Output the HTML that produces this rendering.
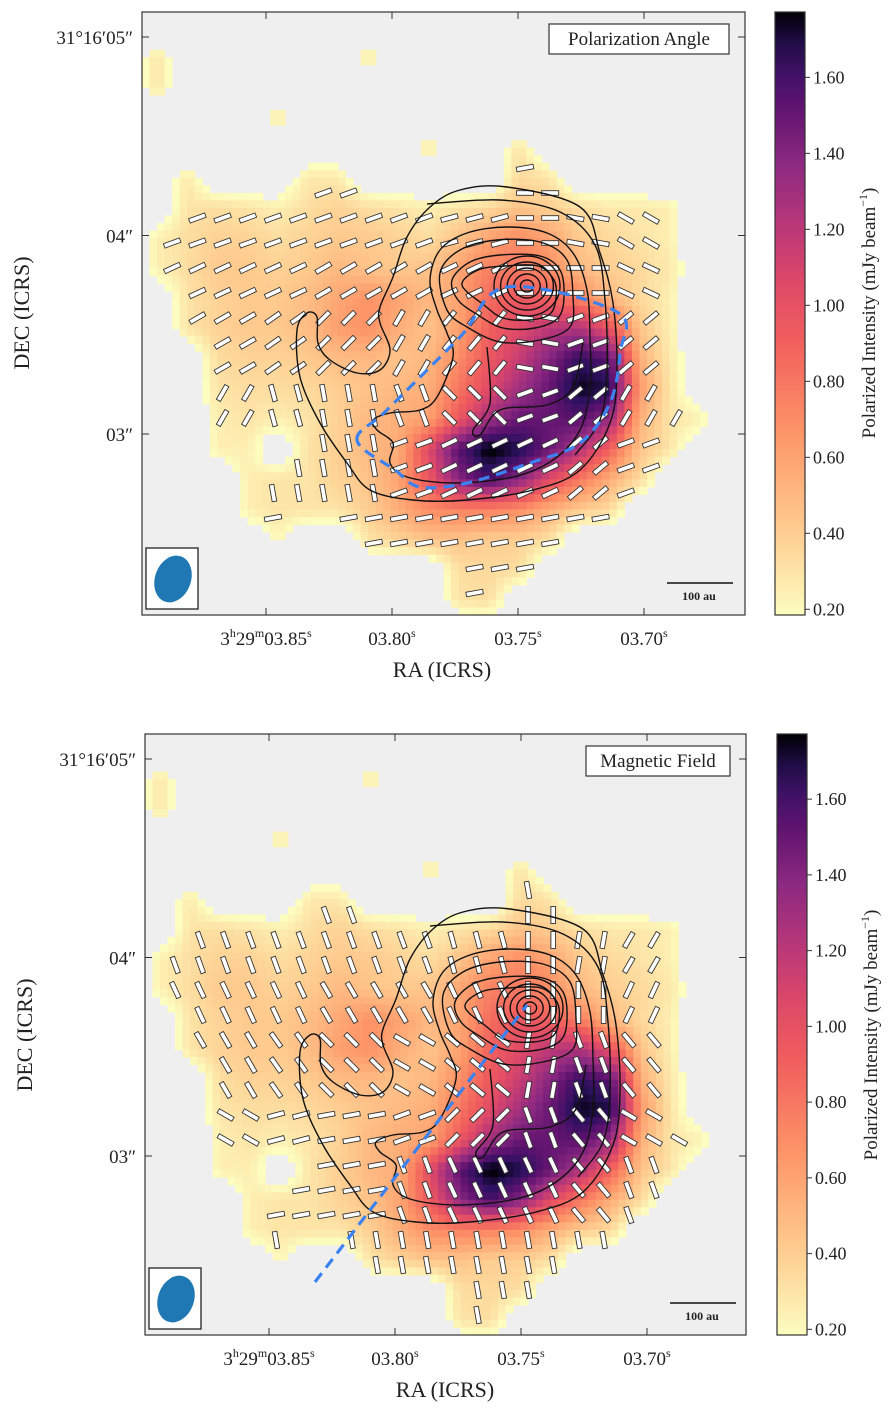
<!DOCTYPE html>
<html><head><meta charset="utf-8">
<style>
html,body{margin:0;padding:0;background:#fff;}
svg text{font-family:"Liberation Serif",serif;fill:#222;}
</style></head>
<body>
<svg id="fig" xmlns="http://www.w3.org/2000/svg" width="895" height="1415" viewBox="0 0 895 1415"></svg>
<script>
// ---- data ----
const gridValues = [
[0,0,0,0,0,0,0,0,0,0,0,0,0,0,0,0,0,0,0,0],
[.3,0,0,0,0,0,0,.3,0,0,0,0,0,0,0,0,0,0,0,0],
[.3,0,0,0,0,0,0,0,0,0,0,0,0,0,0,0,0,0,0,0],
[0,0,0,0,.3,0,0,0,0,0,0,0,0,0,0,0,0,0,0,0],
[0,0,0,0,0,0,0,0,0,.3,0,0,.3,0,0,0,0,0,0,0],
[0,.28,0,0,0,.28,.28,0,0,0,0,0,.35,.3,0,0,0,0,0,0],
[0,.3,.33,.3,.25,.33,.38,.33,.3,.25,.3,.35,.45,.4,.33,.28,.28,.25,0,0],
[.25,.33,.38,.38,.33,.38,.42,.42,.38,.33,.45,.6,.7,.6,.42,.35,.3,.25,0,0],
[.25,.33,.42,.42,.38,.42,.5,.45,.42,.45,.6,.75,.8,.7,.5,.4,.35,.28,0,0],
[0,.3,.38,.42,.42,.48,.58,.68,.6,.5,.6,.85,.95,.9,.75,.5,.35,.25,0,0],
[0,.3,.38,.42,.42,.48,.62,.68,.55,.45,.6,.9,1.05,1.2,1.25,1.0,.45,.25,0,0],
[0,0,.33,.38,.38,.42,.48,.5,.45,.5,.7,.95,1.15,1.4,1.65,1.55,.55,.28,0,0],
[0,0,.3,.33,.33,.35,.4,.45,.5,.55,.8,1.05,1.3,1.5,1.75,1.7,.65,.3,0,0],
[0,0,.25,.3,.25,.3,.38,.5,.55,.6,.95,1.3,1.5,1.5,1.55,1.35,.55,.3,.25,0],
[0,0,.25,.25,0,.3,.4,.5,.55,1.05,1.55,1.8,1.7,1.5,1.25,.9,.45,.3,0,0],
[0,0,0,.25,.3,.3,.38,.45,.6,.95,1.4,1.6,1.4,1.05,.8,.55,.35,0,0,0],
[0,0,0,.25,.3,.3,.3,.4,.55,.7,.75,.75,.7,.55,.42,.35,0,0,0,0],
[0,0,0,0,.22,0,0,.3,.38,.45,.45,.4,.4,.32,0,0,0,0,0,0],
[0,0,0,0,0,0,0,0,0,0,.33,.35,.33,0,0,0,0,0,0,0],
[0,0,0,0,0,0,0,0,0,0,.3,.33,0,0,0,0,0,0,0,0]];
// polarization angle (deg, screen rotation) on 10x10 coarse grid
const angleGrid = [
[-20,-20,-20,-20,-20,-20,-20,-20,-20,-20],
[-20,-20,-20,-20,-20,-20,-20,-20,-20,-20],
[-20,-20,-20,-20,-20,-15,-10,0,20,30],
[-20,-20,-20,-20,-20,-15,0,10,30,35],
[-25,-25,-25,-30,-30,-25,0,0,25,30],
[-30,-30,-35,-45,-60,-50,10,-20,-40,-10],
[-40,-60,75,80,70,45,-20,-40,-60,-20],
[80,80,80,80,-20,-25,-25,-40,-20,-15],
[85,80,-10,-10,-10,-10,-10,-10,-10,-10],
[-10,-10,-10,-10,-10,-10,-10,-10,-10,-10]];
const cbTicks = [0.20,0.40,0.60,0.80,1.00,1.20,1.40,1.60];
const raTicks = ["03.85","03.80","03.75","03.70"];
const decTicks = ["31°16′05″","04″","03″"];
const vmin = 0.185, vmax = 1.772;

const NS="http://www.w3.org/2000/svg";
const fig=document.getElementById('fig');
function mk(tag,attrs,parent){const e=document.createElementNS(NS,tag);for(const k in attrs)e.setAttribute(k,attrs[k]);(parent||fig).appendChild(e);return e;}

const cstops=[[0,[252,253,191]],[0.15,[254,201,141]],[0.3,[253,150,104]],[0.45,[241,96,93]],[0.55,[222,73,104]],[0.65,[183,55,121]],[0.75,[140,41,129]],[0.85,[92,18,110]],[0.93,[44,17,95]],[1,[0,0,4]]];
function cmap(v){let t=(v-vmin)/(vmax-vmin);t=Math.max(0,Math.min(1,t));
 for(let i=1;i<cstops.length;i++){if(t<=cstops[i][0]){const a=cstops[i-1],b=cstops[i];const f=(t-a[0])/(b[0]-a[0]);
 const c=a[1].map((x,j)=>Math.round(x+(b[1][j]-x)*f));return `rgb(${c[0]},${c[1]},${c[2]})`;}}return 'rgb(0,0,4)';}
function sample(gx,gy){
 const x0=Math.floor(gx),y0=Math.floor(gy),fx=gx-x0,fy=gy-y0;
 function g(i,j){if(j<0||j>19||i<0||i>19)return 0;return gridValues[j][i];}
 return g(x0,y0)*(1-fx)*(1-fy)+g(x0+1,y0)*fx*(1-fy)+g(x0,y0+1)*(1-fx)*fy+g(x0+1,y0+1)*fx*fy;}

const contours=[
[[507,187],[580,207],[600,253],[613,303],[617,370],[610,423],[580,470],[533,490],[467,500],[413,500],[370,490],[347,463],[320,423],[300,377],[297,330],[307,313],[317,317],[318,343],[330,360],[357,373],[380,370],[390,350],[380,323],[380,307],[393,277],[407,237],[430,207],[460,190]],
[[373,420],[390,413],[420,410],[437,397],[453,357],[447,333],[437,310],[430,280],[440,250],[467,233],[507,227],[547,233],[573,253],[587,290],[590,337],[590,387],[580,430],[553,460],[513,477],[453,483],[407,477],[390,463],[393,443],[377,430]],
[[427,204],[500,200],[560,212],[595,245],[605,300],[607,370],[600,420],[575,455]],
[[440,273],[460,250],[497,240],[540,242],[567,260],[573,297],[570,327],[540,340],[500,342],[467,327],[447,310]],
[[452,280],[470,262],[500,255],[540,256],[560,270],[564,297],[558,318],[535,328],[503,328],[478,315],[458,300]],
[[462,285],[478,270],[505,266],[538,266],[554,280],[556,298],[550,314],[530,320],[503,318],[484,305]],
[[487,347],[490,403],[473,430],[480,435],[500,410],[547,405],[573,387],[583,343]]
];
const openContour=[false,false,true,false,false,false,true];
const coreRadii=[6,12,18,24,30];
const dashTop=[[357,440],[387,410],[460,337],[507,287],[617,312],[620,353],[610,403],[580,443],[530,463],[467,483],[420,487],[395,470],[357,440]];

function smoothPath(pts,closed,dx,dy){
 const p=pts.map(q=>[q[0]+dx,q[1]+dy]);const n=p.length;let d=`M${p[0][0]},${p[0][1]}`;
 const cnt=closed?n:n-1;
 for(let i=0;i<cnt;i++){const p0=p[(i-1+n)%n],p1=p[i],p2=p[(i+1)%n],p3=p[(i+2)%n];
  const a0=closed||i>0?p0:p1, a3=closed||i<n-2?p3:p2;
  const c1=[p1[0]+(p2[0]-a0[0])/6,p1[1]+(p2[1]-a0[1])/6],c2=[p2[0]-(a3[0]-p1[0])/6,p2[1]-(a3[1]-p1[1])/6];
  d+=` C${c1[0].toFixed(1)},${c1[1].toFixed(1)} ${c2[0].toFixed(1)},${c2[1].toFixed(1)} ${p2[0]},${p2[1]}`;}
 return closed?d+'Z':d;}

function panel(o){
 const {x,y,w,h,rot,title,bid}=o;const dx=x-142,dy=y-12;
 const g=mk('g',{});
 
 
 mk('clipPath',{id:'clip'+bid},g).appendChild(document.createElementNS(NS,'rect'));
 const cr=g.querySelector('clipPath rect');cr.setAttribute('x',x);cr.setAttribute('y',y);cr.setAttribute('width',w);cr.setAttribute('height',h);
 const bg=mk('rect',{x,y,width:w,height:h,fill:'#efefef'},g);
 
 
 const hm=mk('g',{'clip-path':`url(#clip${bid})`},g);
 
 
 const F=4,cw=w/20/F,ch=h/20/F;
 for(let j=0;j<20*F;j++)for(let i=0;i<20*F;i++){
  const v=sample((i+0.5)/F-0.5,(j+0.5)/F-0.5);if(v<0.17)continue;
  const r=mk('rect',{x:(x+i*cw).toFixed(2),y:(y+j*ch).toFixed(2),width:(cw+0.6).toFixed(2),height:(ch+0.6).toFixed(2),fill:cmap(v)},hm);
  
  
 }
 const vg=mk('g',{'clip-path':`url(#clip${bid})`},g);
 
 
 for(let m=0;m<24;m++)for(let k=0;k<24;k++){
  const px=147+25.2*k, py=68+25*m; if(px>740||py>612)continue;
  const gx=(px-142)/(603/20)-0.5, gy=(py-12)/(603/20)-0.5;
  if(sample(gx,gy)<0.26)continue;
  const ai=Math.min(9,Math.floor((px-142)/60.3)),aj=Math.min(9,Math.floor((py-12)/60.3));
  const ang=angleGrid[aj][ai]+rot;
  const cx=dx+px,cy=dy+py;
  const r=mk('rect',{x:cx-8.5,y:cy-2.3,width:17,height:4.6,fill:'#fff',stroke:'#333','stroke-width':0.9,transform:`rotate(${ang} ${cx} ${cy})`},vg);
  
  
 }
 const cg=mk('g',{fill:'none',stroke:'#111','stroke-width':1.4},g);
 
 
 contours.forEach((c,i)=>{const p=mk('path',{d:smoothPath(c,!openContour[i],dx,dy)},cg);
  
  });
 coreRadii.forEach(r=>{const c=mk('ellipse',{cx:527+dx,cy:286+dy,rx:r*1.1,ry:r},cg);
  
  });
 let dsh;
 if(o.dashCurve){dsh=mk('path',{d:smoothPath(dashTop.slice(0,-1),true,dx,dy),fill:'none',stroke:'#3b82f0','stroke-width':3.2,'stroke-dasharray':'11 7'},g);}
 else{dsh=mk('line',{x1:315,y1:1282,x2:527,y2:1005,stroke:'#3b82f0','stroke-width':3.2,'stroke-dasharray':'11 7'},g);}
 
 
 const fr=mk('rect',{x,y,width:w,height:h,fill:'none',stroke:'#333','stroke-width':1.2},g);
 
 
 raTicks.forEach((t,i)=>{const tx=x+124+126*i;
  mk('line',{x1:tx,y1:y+h,x2:tx,y2:y+h-7,stroke:'#333'},g);mk('line',{x1:tx,y1:y,x2:tx,y2:y+7,stroke:'#333'},g);
  const tt=mk('text',{x:tx,y:y+h+30,'text-anchor':'middle','font-size':19},g);
  
  
  if(i===0){tt.innerHTML='3<tspan font-size="12" dy="-8">h</tspan><tspan dy="8">29</tspan><tspan font-size="12" dy="-8">m</tspan><tspan dy="8">'+t+'</tspan><tspan font-size="12" dy="-8">s</tspan>';}
  else{tt.innerHTML=t+'<tspan font-size="12" dy="-8">s</tspan>';}
 });
 decTicks.forEach((t,i)=>{const ty=y+25+198.5*i;
  mk('line',{x1:x,y1:ty,x2:x+7,y2:ty,stroke:'#333'},g);mk('line',{x1:x+w,y1:ty,x2:x+w-7,y2:ty,stroke:'#333'},g);
  const tt=mk('text',{x:x-9,y:ty+7,'text-anchor':'end','font-size':19},g);tt.textContent=t;
  
  });
 const xl=mk('text',{x:x+300,y:y+h+62,'text-anchor':'middle','font-size':22},g);xl.textContent='RA (ICRS)';
 
 
 const yl=mk('text',{x:0,y:0,'text-anchor':'middle','font-size':22,transform:`translate(${x-113},${y+301}) rotate(-90)`},g);yl.textContent='DEC (ICRS)';
 
 
 const tb=mk('g',{},g);
 
 
 mk('rect',{x:o.tbx,y:y+12,width:x+w-12-o.tbx-4,height:30,fill:'#fff',stroke:'#333','stroke-width':1.2},tb);
 const tl=mk('text',{x:(o.tbx+x+w-16)/2,y:y+33,'text-anchor':'middle','font-size':19},tb);tl.textContent=title;
 const bm=mk('g',{},g);
 
 
 mk('rect',{x:x+4,y:y+h-67,width:52,height:61,fill:'#fff',stroke:'#222','stroke-width':1.3},bm);
 mk('ellipse',{cx:x+31,cy:y+h-36,rx:18,ry:24,fill:'#1f77b4',transform:`rotate(20 ${x+31} ${y+h-36})`},bm);
 const sb=mk('g',{},g);
 
 
 mk('line',{x1:x+525,y1:y+h-32,x2:x+591,y2:y+h-32,stroke:'#111','stroke-width':1.6},sb);
 const st=mk('text',{x:x+557,y:y+h-15,'text-anchor':'middle','font-size':12,'font-weight':'bold'},sb);st.textContent='100 au';
 const cb=mk('g',{},g);
 
 
 const gd=mk('linearGradient',{id:'cbg'+bid,x1:0,y1:1,x2:0,y2:0},cb);
 for(let s=0;s<=20;s++){const v=vmin+(vmax-vmin)*s/20;mk('stop',{offset:s/20,'stop-color':cmap(v)},gd);}
 const cx0=o.cbx,cw0=30;
 mk('rect',{x:cx0,y,width:cw0,height:h,fill:`url(#cbg${bid})`,stroke:'#333','stroke-width':1.2},cb);
 cbTicks.forEach(v=>{const ty=y+h-(v-vmin)/(vmax-vmin)*h;
  mk('line',{x1:cx0+cw0,y1:ty,x2:cx0+cw0+5,y2:ty,stroke:'#333'},cb);
  const t=mk('text',{x:cx0+cw0+8,y:ty+6,'font-size':18},cb);t.textContent=v.toFixed(2);
  
  });
 const cl=mk('text',{x:0,y:0,'text-anchor':'middle','font-size':19,transform:`translate(${cx0+100},${y+301}) rotate(-90)`},cb);
 cl.innerHTML='Polarized Intensity (mJy beam<tspan font-size="12" dy="-8">−1</tspan><tspan dy="8">)</tspan>';
 
 
}
panel({name:'polarization-angle-panel',x:142,y:12,w:603,h:603,rot:0,title:'Polarization Angle',bid:'a',tbx:549,cbx:775,dashCurve:true});
panel({name:'magnetic-field-panel',x:145,y:734,w:601,h:601,rot:90,title:'Magnetic Field',bid:'b',tbx:586,cbx:777,dashCurve:false});
</script>
</body></html>
